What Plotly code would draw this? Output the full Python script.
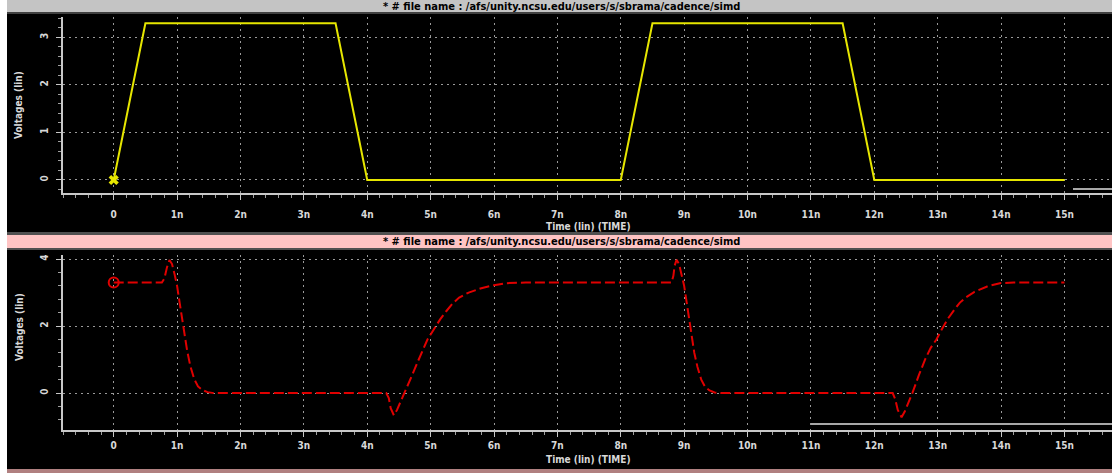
import plotly.graph_objects as go

# ---------------- data ----------------
t_in = [0.0, 0.5, 3.5, 4.0, 8.0, 8.5, 11.5, 12.0, 15.0]
v_in = [0.0, 3.3, 3.3, 0.0, 0.0, 3.3, 3.3, 0.0, 0.0]

t_out = [0.0, 0.76, 0.80, 0.84, 0.88, 0.92, 0.96, 1.00, 1.04, 1.08, 1.12, 1.16, 1.21, 1.27,
         1.33, 1.40, 1.48, 1.58,
         4.30, 4.34, 4.37, 4.42, 4.47, 4.53, 4.59, 4.70, 4.80, 4.88, 4.95, 5.05, 5.15, 5.25,
         5.35, 5.45, 5.60, 5.80, 6.00, 6.20, 6.50,
         8.80, 8.83, 8.85, 8.88, 8.92, 8.96, 9.00, 9.04, 9.08, 9.12, 9.16, 9.21, 9.27,
         9.33, 9.40, 9.48, 9.58,
         12.29, 12.33, 12.37, 12.43, 12.48, 12.54, 12.60, 12.70, 12.80, 12.89, 12.98, 13.07,
         13.16, 13.26, 13.35, 13.44, 13.58, 13.78, 13.98, 14.20, 15.0]
v_out = [3.3, 3.3, 3.42, 3.75, 3.97, 3.85, 3.55, 3.20, 2.70, 2.20, 1.70, 1.25, 0.80, 0.42,
         0.20, 0.09, 0.03, 0.0,
         0.0, -0.15, -0.45, -0.66, -0.50, -0.25, 0.0, 0.50, 0.95, 1.30, 1.60, 1.90, 2.20, 2.45,
         2.68, 2.85, 3.00, 3.13, 3.22, 3.28, 3.30,
         3.3, 3.50, 3.80, 3.98, 3.85, 3.55, 3.20, 2.70, 2.15, 1.65, 1.20, 0.78, 0.40,
         0.19, 0.08, 0.02, 0.0,
         0.0, -0.18, -0.50, -0.72, -0.55, -0.28, 0.0, 0.52, 1.00, 1.35, 1.60, 1.92,
         2.22, 2.48, 2.70, 2.85, 3.02, 3.18, 3.28, 3.30, 3.30]

x_ticks = list(range(0, 16))
x_labels = ["0"] + [f"{i}n" for i in range(1, 16)]
y1_ticks = [0, 1, 2, 3]
y2_ticks = [0, 2, 4]

header_text = "* # file name : /afs/unity.ncsu.edu/users/s/sbrama/cadence/simd"
x_title = "Time (lin) (TIME)"
y_title = "Voltages (lin)"

W, H = 1112, 473


def px(x):
    return x / W


def py(y):
    return 1 - y / H


YELLOW = "#e6e600"
RED = "#e00000"
AXC = "#c8c8c8"
GRID = "#9a9a9a"
TICKFONT = dict(family="DejaVu Sans Condensed, Liberation Sans Narrow, sans-serif",
                size=10, color="#d8d8d8", weight="bold")

fig = go.Figure()
fig.add_trace(go.Scatter(x=t_in, y=v_in, mode="lines", line=dict(color=YELLOW, width=2),
                         xaxis="x", yaxis="y", showlegend=False))
fig.add_trace(go.Scatter(x=[t_in[0]], y=[v_in[0]], mode="markers",
                         marker=dict(symbol="x", size=9, color=YELLOW, line=dict(width=0)),
                         xaxis="x", yaxis="y", showlegend=False))
fig.add_trace(go.Scatter(x=t_out, y=v_out, mode="lines",
                         line=dict(color=RED, width=2, dash="10px,4px"),
                         xaxis="x2", yaxis="y2", showlegend=False))
fig.add_trace(go.Scatter(x=[t_out[0]], y=[v_out[0]], mode="markers",
                         marker=dict(symbol="circle-open", size=10, color=RED,
                                     line=dict(width=2, color=RED)),
                         xaxis="x2", yaxis="y2", showlegend=False))

xcommon = dict(range=[-0.8, 15.75], tickvals=x_ticks, ticktext=x_labels,
               showgrid=True, gridcolor=GRID, griddash="2px,4px", gridwidth=1,
               showline=True, linecolor=AXC, linewidth=2, zeroline=False,
               ticks="outside", ticklen=5, tickcolor=AXC, tickwidth=1,
               tickfont=TICKFONT,
               minor=dict(dtick=0.2, tick0=0, ticks="outside", ticklen=3,
                          tickcolor="#a0a0a0", showgrid=False),
               domain=[px(63), 1.0], fixedrange=True)
ycommon = dict(showgrid=True, gridcolor=GRID, griddash="2px,4px", gridwidth=1,
               showline=True, linecolor=AXC, linewidth=2, zeroline=False,
               ticks="outside", ticklen=5, tickcolor=AXC, tickwidth=1,
               tickfont=TICKFONT, tickangle=-90, ticklabelstandoff=4, fixedrange=True)

fig.update_layout(
    width=W, height=H,
    margin=dict(l=0, r=0, t=0, b=0),
    paper_bgcolor="black", plot_bgcolor="black",
    xaxis=dict(xcommon, anchor="y", ticklabelstandoff=6),
    yaxis=dict(ycommon, anchor="x", range=[-0.274, 3.43], tickvals=y1_ticks,
               domain=[py(193), py(17)],
               minor=dict(dtick=0.2, tick0=0, ticks="outside", ticklen=3,
                          tickcolor="#a0a0a0", showgrid=False)),
    xaxis2=dict(xcommon, anchor="y2", ticklabelstandoff=0),
    yaxis2=dict(ycommon, anchor="x2", range=[-1.1, 4.12], tickvals=y2_ticks,
                domain=[py(430), py(255)],
                minor=dict(dtick=0.4, tick0=0, ticks="outside", ticklen=3,
                           tickcolor="#a0a0a0", showgrid=False)),
    showlegend=False,
)

shapes = [
    # white left strip
    dict(type="rect", xref="paper", yref="paper", x0=0, x1=px(7), y0=0, y1=1,
         fillcolor="white", line=dict(width=0), layer="above"),
    # top header bar (grey)
    dict(type="rect", xref="paper", yref="paper", x0=px(7), x1=1, y0=py(12), y1=1,
         fillcolor="#c4c4c4", line=dict(width=0), layer="above"),
    dict(type="rect", xref="paper", yref="paper", x0=px(7), x1=1, y0=py(14), y1=py(12),
         fillcolor="#404040", line=dict(width=0), layer="above"),
    # separator + pink header bar
    dict(type="rect", xref="paper", yref="paper", x0=px(7), x1=1, y0=py(235), y1=py(232),
         fillcolor="#505050", line=dict(width=0), layer="above"),
    dict(type="rect", xref="paper", yref="paper", x0=px(7), x1=1, y0=py(248), y1=py(235),
         fillcolor="#ffc4c4", line=dict(width=0), layer="above"),
    dict(type="rect", xref="paper", yref="paper", x0=px(7), x1=1, y0=py(250), y1=py(248),
         fillcolor="#505050", line=dict(width=0), layer="above"),
    # bottom pinkish edge
    dict(type="rect", xref="paper", yref="paper", x0=px(7), x1=1, y0=0, y1=py(469),
         fillcolor="#b08080", line=dict(width=0), layer="above"),
    # short grey segments at lower right of each panel
    dict(type="line", xref="paper", yref="paper", x0=px(1073), x1=1, y0=py(189), y1=py(189),
         line=dict(color="#a8a8a8", width=2), layer="above"),
    dict(type="line", xref="paper", yref="paper", x0=px(811), x1=1, y0=py(424), y1=py(424),
         line=dict(color="#a8a8a8", width=2), layer="above"),
]
fig.update_layout(shapes=shapes)

HFONT = dict(family="DejaVu Sans Condensed, Liberation Sans Narrow, sans-serif",
             size=11, color="black", weight="bold")
AFONT = dict(family="DejaVu Sans Condensed, Liberation Sans Narrow, sans-serif",
             size=10, color="#d8d8d8", weight="bold")
annotations = [
    dict(text=header_text, xref="paper", yref="paper", x=px(561), y=py(6),
         showarrow=False, font=HFONT, xanchor="center", yanchor="middle"),
    dict(text=header_text, xref="paper", yref="paper", x=px(561), y=py(241.5),
         showarrow=False, font=HFONT, xanchor="center", yanchor="middle"),
    dict(text=x_title, xref="paper", yref="paper", x=px(588), y=py(226),
         showarrow=False, font=AFONT, xanchor="center", yanchor="middle"),
    dict(text=x_title, xref="paper", yref="paper", x=px(588), y=py(459),
         showarrow=False, font=AFONT, xanchor="center", yanchor="middle"),
    dict(text=y_title, xref="paper", yref="paper", x=px(19), y=py(105),
         showarrow=False, font=AFONT, textangle=-90, xanchor="center", yanchor="middle"),
    dict(text=y_title, xref="paper", yref="paper", x=px(19), y=py(327),
         showarrow=False, font=AFONT, textangle=-90, xanchor="center", yanchor="middle"),
]
fig.update_layout(annotations=annotations)

fig.write_html("out.html", config={"displayModeBar": False},
               post_script="document.body.style.margin='0';")
